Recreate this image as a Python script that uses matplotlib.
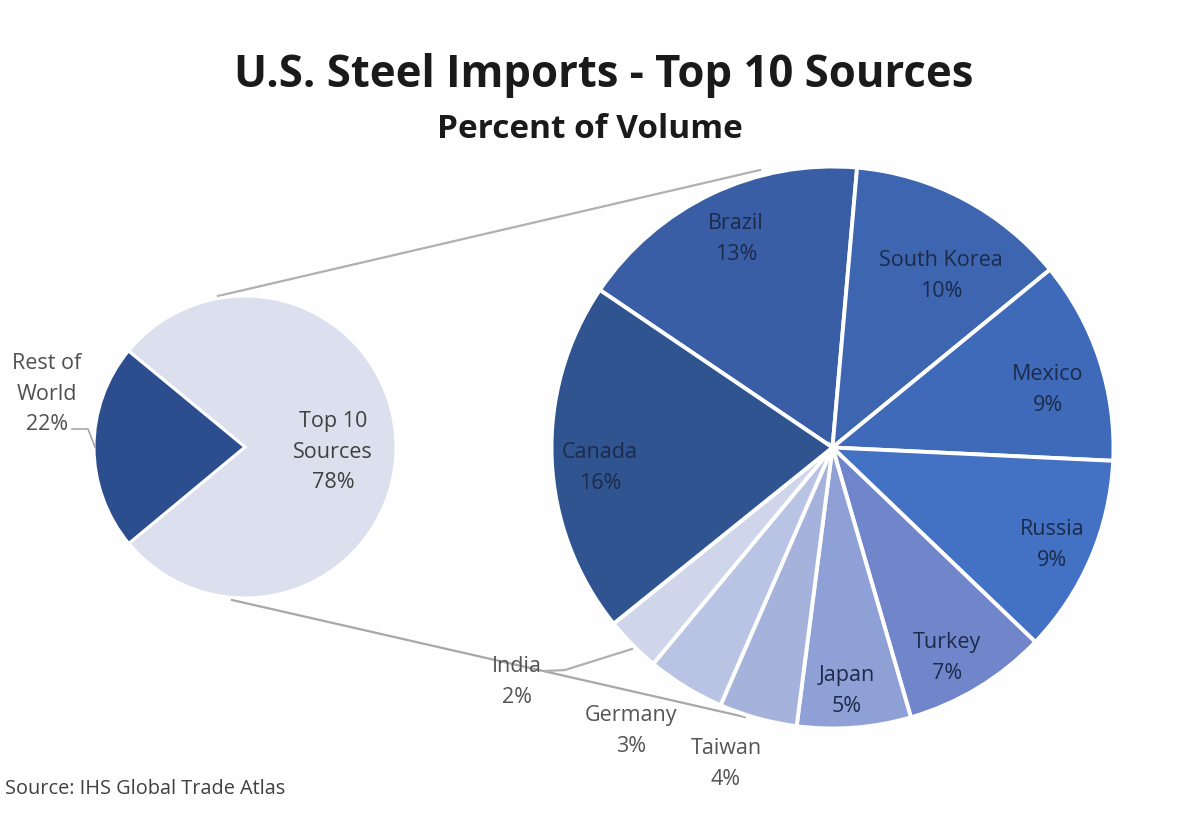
import matplotlib
matplotlib.use("Agg")
import matplotlib.pyplot as plt

# left pie
left_names = ["Top 10\nSources", "Rest of\nWorld"]
left_values = [78, 22]
left_colors = ["#dce0ee", "#2c4e8f"]

# right pie, wedge sizes, clockwise from Brazil
right_names = ["Brazil", "South Korea", "Mexico", "Russia", "Turkey",
               "Japan", "Taiwan", "Germany", "India", "Canada"]
right_pct = [13, 10, 9, 9, 7, 5, 4, 3, 2, 16]
right_sizes = [13.2, 9.9, 9.1, 8.9, 6.5, 5.1, 3.5, 3.5, 2.5, 15.8]
right_colors = ["#3a5ea6", "#3d65b0", "#3f69b9", "#4372c4", "#7186ca",
                "#8ea0d5", "#a5b2db", "#b9c3e3", "#cfd5ea", "#30548f"]

label_pos = {
    "Brazil": (736, 239), "South Korea": (941, 276), "Mexico": (1048, 390),
    "Russia": (1052, 545), "Turkey": (947, 658), "Japan": (847, 691),
    "Taiwan": (726, 764), "Germany": (631, 731), "India": (517, 682),
    "Canada": (600, 468),
}

W, H = 1200, 840


def py(y):
    # picture y (from top) to axes y
    return H - y


plt.rcParams["font.family"] = ["Open Sans", "DejaVu Sans"]

fig = plt.figure(figsize=(12, 8.4), dpi=100, facecolor="#fefefe")
ax = fig.add_axes([0, 0, 1, 1])

# connector lines sit behind the pies
ax.plot([218, 760], [py(296), py(170)], color="#b0b0b0", lw=1.6, zorder=1)
ax.plot([232, 745], [py(600), py(717)], color="#a8a8a8", lw=1.6, zorder=1)

ax.pie(left_values, colors=left_colors, center=(245, py(447)), radius=151,
       startangle=140.5, counterclock=False, frame=True,
       wedgeprops={"edgecolor": "white", "linewidth": 2.2})
ax.pie(right_sizes, colors=right_colors, center=(832.5, py(447.5)), radius=281,
       startangle=145.9, counterclock=False, frame=True,
       wedgeprops={"edgecolor": "white", "linewidth": 2.8})
ax.set_xlim(0, W)
ax.set_ylim(0, H)
ax.set_aspect("equal")
ax.axis("off")

# leader lines
ax.plot([72, 88, 95], [py(429), py(429), py(447)], color="#a0a0a0", lw=1.1, zorder=3)
ax.plot([545, 565, 632], [py(671), py(670), py(649)], color="#b0b0b0", lw=1.6, zorder=3)

ax.text(604, py(75), "U.S. Steel Imports - Top 10 Sources", ha="center", va="center",
        fontsize=31.4, fontweight="bold", color="#1a1a1a")
ax.text(590, py(129), "Percent of Volume", ha="center", va="center",
        fontsize=24, fontweight="bold", color="#1a1a1a")

for name, pct in zip(right_names, right_pct):
    x, y = label_pos[name]
    dark = name in ("Brazil", "South Korea", "Mexico", "Russia", "Canada", "Turkey", "Japan")
    ax.text(x, py(y), f"{name}\n{pct}%", ha="center", va="center", fontsize=15.5,
            color="#1c2b4a" if dark else "#555555", linespacing=1.62, zorder=4)

ax.text(333, py(452), f"{left_names[0]}\n{left_values[0]}%", ha="center", va="center",
        fontsize=15.5, color="#404040", linespacing=1.62, zorder=4)
ax.text(47, py(394), f"{left_names[1]}\n{left_values[1]}%", ha="center", va="center",
        fontsize=15.5, color="#505050", linespacing=1.62, zorder=4)

ax.text(5, py(789), "Source: IHS Global Trade Atlas", ha="left", va="center",
        fontsize=14.3, color="#404040")

fig.savefig("out.png", dpi=100, facecolor=fig.get_facecolor())
plt.close(fig)
